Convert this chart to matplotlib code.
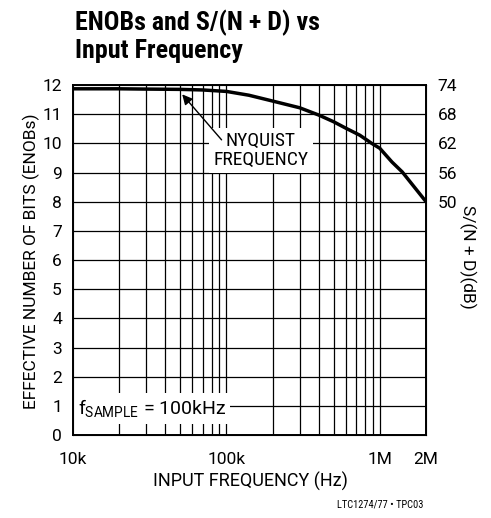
import numpy as np
import matplotlib.pyplot as plt

plt.rcParams['font.family'] = ['Roboto', 'DejaVu Sans']
plt.rcParams['mathtext.fontset'] = 'custom'
plt.rcParams['mathtext.rm'] = 'Roboto'

# ENOBs vs input frequency
freq_hz = [10e3, 20e3, 30e3, 50e3, 70e3, 100e3, 140e3, 200e3, 300e3,
           400e3, 500e3, 600e3, 740e3, 885e3, 1e6, 1.2e6, 1.4e6, 1.65e6, 2e6]
enobs = [11.87, 11.87, 11.86, 11.85, 11.83, 11.78, 11.65, 11.45, 11.22,
         10.97, 10.74, 10.52, 10.28, 10.0, 9.83, 9.36, 9.02, 8.55, 8.0]

grid_x = [20e3, 30e3, 40e3, 50e3, 60e3, 70e3, 80e3, 90e3, 100e3,
          200e3, 300e3, 400e3, 500e3, 600e3, 700e3, 800e3, 900e3, 1e6]
xticks = [10e3, 100e3, 1e6, 2e6]
xticklabels = ['10k', '100k', '1M', '2M']
yticks = list(range(0, 13))
sinad_ticks = [8, 9, 10, 11, 12]
sinad_labels = ['50', '56', '62', '68', '74']

fig = plt.figure(figsize=(4.91, 5.18), dpi=100)
ax = fig.add_axes([0.1487, 0.1602, 0.7189, 0.6757])

ax.set_xscale('log')
ax.set_xlim(10e3, 2e6)
ax.set_ylim(0, 12)

for gx in grid_x:
    ax.axvline(gx, color='black', lw=0.9, zorder=1)
for gy in yticks[1:-1]:
    ax.axhline(gy, color='black', lw=0.9, zorder=1)

ax.plot(freq_hz, enobs, color='black', lw=2.5, zorder=4,
        solid_capstyle='butt')

ax.set_xticks(xticks)
ax.set_xticklabels(xticklabels)
ax.xaxis.set_minor_locator(plt.NullLocator())
ax.set_yticks(yticks)
ax.tick_params(axis='x', length=0, labelsize=12.5, pad=12)
ax.tick_params(axis='y', length=0, labelsize=12.5, pad=8)
for s in ax.spines.values():
    s.set_linewidth(1.4)

ax2 = ax.twinx()
ax2.set_ylim(0, 12)
ax2.set_yticks(sinad_ticks)
ax2.set_yticklabels(sinad_labels)
ax2.tick_params(length=0, labelsize=12.5, pad=8.5)
ax2.set_ylabel('S/(N + D)(dB)', fontsize=12.5, rotation=-90, va='center')
ax2.yaxis.set_label_coords(1.119, 0.51)

ax.set_xlabel('INPUT FREQUENCY (Hz)', fontsize=13, va='top')
ax.xaxis.set_label_coords(0.504, -0.105)
ax.set_ylabel('EFFECTIVE NUMBER OF BITS (ENOBs)', fontsize=12.5, va='center')
ax.yaxis.set_label_coords(-0.119, 0.497)

box = dict(facecolor='white', edgecolor='none', pad=3)
ax.text(168e3, 9.75, 'NYQUIST\nFREQUENCY', ha='center', va='center',
        fontsize=14, family='Roboto Condensed', linespacing=1.05,
        bbox=box, zorder=3)
ax.annotate('', xy=(51.5e3, 11.68), xytext=(93e3, 10.12),
            arrowprops=dict(arrowstyle='-|>', color='black', lw=1.0,
                            mutation_scale=15, shrinkA=0, shrinkB=0),
            zorder=5)

ax.text(10.8e3, 0.71, r'f$_{\mathrm{SAMPLE}}$ = 100kHz', ha='left',
        va='baseline', fontsize=14, bbox=box, zorder=3)

fig.text(0.153, 0.982, 'ENOBs and S/(N + D) vs\nInput Frequency',
         ha='left', va='top', fontsize=18.7, fontweight='bold',
         family='Roboto Condensed', linespacing=1.2)
fig.text(0.863, 0.016, 'LTC1274/77 \u2022 TPC03', ha='right', va='bottom',
         fontsize=7.5, family='Roboto Condensed')

fig.savefig('out.png', dpi=100)
